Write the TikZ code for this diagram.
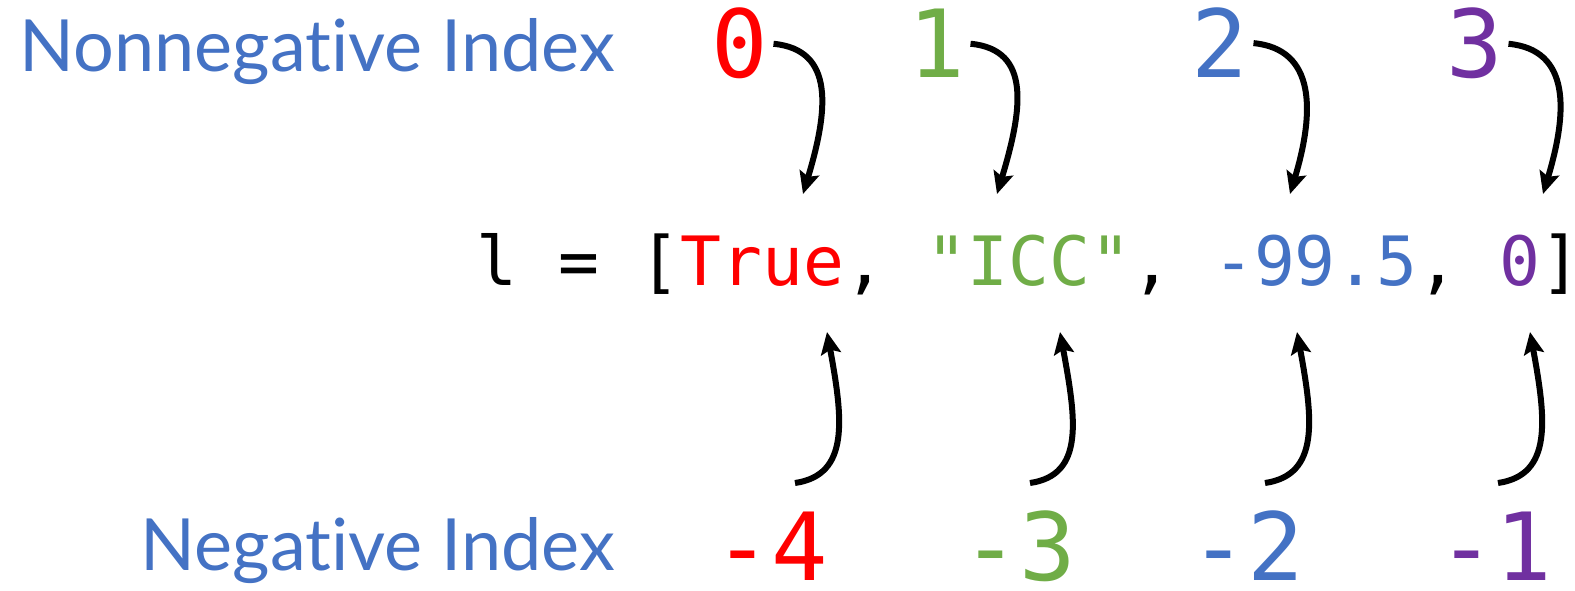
\documentclass[tikz,border=0pt]{standalone}
\usepackage{fontspec}
\setmainfont{Lato}[Ligatures={NoCommon}]
\newfontfamily\codefont{DejaVu Sans Mono}
\usetikzlibrary{arrows.meta}
\definecolor{idxred}{HTML}{FF0000}
\definecolor{idxgreen}{HTML}{70AD47}
\definecolor{idxblue}{HTML}{4472C4}
\definecolor{idxpurple}{HTML}{7030A0}
\tikzset{
  label/.style={inner sep=0pt,text=idxblue,font=\fontsize{72}{80}\selectfont},
  digit/.style={inner sep=0pt,anchor=base,font=\codefont\fontsize{94}{100}\selectfont},
  idxarrow/.style={line width=6pt,-{Stealth[length=22pt,width=20pt,inset=4pt]}}
}
\begin{document}
\begin{tikzpicture}[x=1pt,y=-1pt]
\useasboundingbox (0,0) rectangle (1575,591);
% labels
\node[label,anchor=base east] (nonneg) at (615,72) {Nonnegative Index};
\node[label,anchor=base east] (neg)    at (615,570) {Negative Index};
% the list
\node[inner sep=0pt,anchor=base west,font=\codefont\fontsize{68}{76}\selectfont] (lst) at (476,285)
  {l = [\textcolor{idxred}{True}, \textcolor{idxgreen}{"ICC"}, \textcolor{idxblue}{-99.5}, \textcolor{idxpurple}{0}]};
% nonnegative indices
\node[digit,text=idxred]    (nn0) at (740,78)  {0};
\node[digit,text=idxgreen]  (nn1) at (937,78)  {1};
\node[digit,text=idxblue]   (nn2) at (1220,78) {2};
\node[digit,text=idxpurple] (nn3) at (1475,78) {3};
% negative indices
\node[digit,text=idxred]    (neg4) at (771,580)  {-4};
\node[digit,text=idxgreen]  (neg3) at (1019,580) {-3};
\node[digit,text=idxblue]   (neg2) at (1247,580) {-2};
\node[digit,text=idxpurple] (neg1) at (1495,580) {-1};
% arrow ends
\coordinate (p0) at (803,194);
\coordinate (p1) at (997,194);
\coordinate (p2) at (1290,194);
\coordinate (p3) at (1543,194);
\coordinate (q4) at (795,483);
\coordinate (q3) at (1030,483);
\coordinate (q2) at (1265,483);
\coordinate (q1) at (1498,483);
\coordinate (m4) at (827,332);
\coordinate (m3) at (1060,332);
\coordinate (m2) at (1297,332);
\coordinate (m1) at (1530,332);
% top arrows
\draw[idxarrow] ([xshift=5pt]nn0.east) .. controls +(62,6) and +(25,-83) .. (p0);
\draw[idxarrow] ([xshift=5pt]nn1.east) .. controls +(62,6) and +(25,-83) .. (p1);
\draw[idxarrow] ([xshift=5pt]nn2.east) .. controls +(62,6) and +(25,-83) .. (p2);
\draw[idxarrow] ([xshift=5pt]nn3.east) .. controls +(62,6) and +(25,-83) .. (p3);
% bottom arrows
\draw[idxarrow] (q4) .. controls +(55,-8) and +(16,87) .. (m4);
\draw[idxarrow] (q3) .. controls +(55,-8) and +(16,87) .. (m3);
\draw[idxarrow] (q2) .. controls +(55,-8) and +(16,87) .. (m2);
\draw[idxarrow] (q1) .. controls +(55,-8) and +(16,87) .. (m1);
\end{tikzpicture}
\end{document}
